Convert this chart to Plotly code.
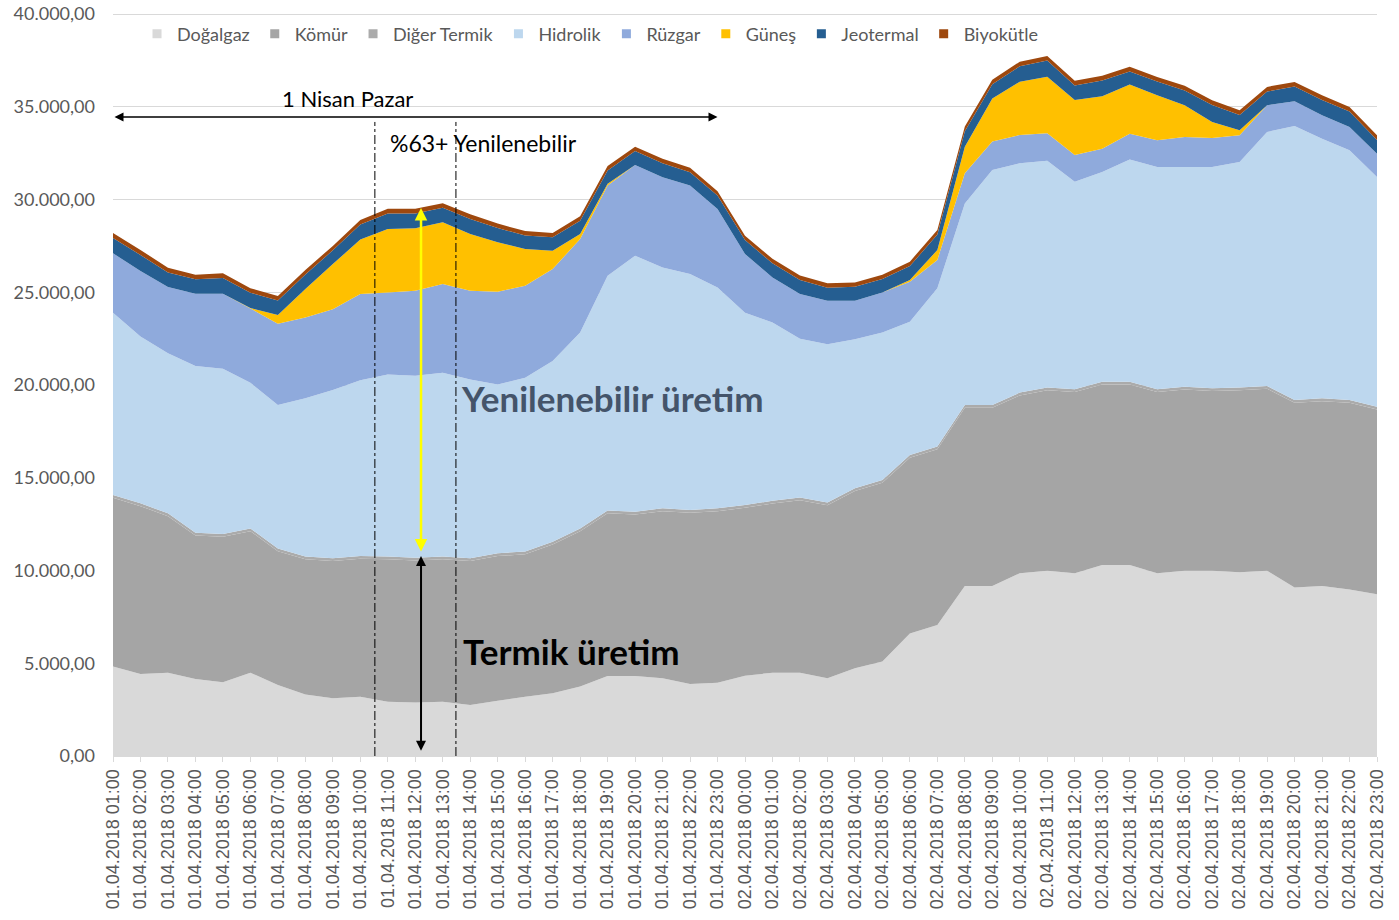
import plotly.graph_objects as go

# ---- categories (hourly timestamps) ----
hours_day1 = [f"01.04.2018 {h:02d}:00" for h in range(1, 24)]
hours_day2 = [f"02.04.2018 {h:02d}:00" for h in range(0, 24)]
categories = hours_day1 + hours_day2

# ---- series values (MW) ----
dogalgaz = [4820, 4420, 4490, 4150, 3970, 4490, 3830, 3320, 3110, 3200, 2930, 2880, 2930, 2750, 2980, 3200,
            3380, 3740, 4310, 4310, 4190, 3880, 3950, 4330, 4490, 4490, 4190, 4730, 5090, 6610, 7060, 9160,
            9160, 9850, 9990, 9850, 10300, 10300, 9850, 9990, 9990, 9900, 9990, 9090, 9160, 8980, 8720]
komur = [9100, 9050, 8440, 7740, 7850, 7630, 7210, 7280, 7400, 7430, 7670, 7660, 7670, 7760, 7800, 7670,
         8020, 8380, 8770, 8710, 9010, 9230, 9250, 9050, 9120, 9300, 9330, 9550, 9640, 9470, 9470, 9610,
         9610, 9590, 9730, 9770, 9730, 9730, 9770, 9770, 9680, 9820, 9810, 9950, 9970, 10060, 9960]
diger_termik = [150, 150, 150, 150, 150, 150, 150, 150, 150, 150, 150, 150, 150, 150, 150, 150,
                150, 150, 150, 150, 150, 150, 150, 150, 150, 150, 150, 150, 150, 150, 150, 150,
                150, 150, 150, 150, 150, 150, 150, 150, 150, 150, 150, 150, 150, 150, 150]
hidrolik = [9830, 8990, 8630, 8990, 8910, 7850, 7730, 8530, 9070, 9470, 9820, 9810, 9910, 9640, 9100, 9370,
            9750, 10560, 12660, 13800, 12990, 12720, 11910, 10370, 9610, 8560, 8530, 8040, 7950, 7180, 8530, 10870,
            12670, 12360, 12220, 11190, 11300, 11980, 11980, 11840, 11930, 12150, 13690, 14770, 14000, 13460, 12380]
ruzgar = [3200, 3540, 3570, 3890, 4040, 4010, 4380, 4360, 4360, 4650, 4420, 4580, 4780, 4780, 5000, 4960,
          4950, 5040, 4860, 4890, 4860, 4780, 4230, 3160, 2430, 2400, 2340, 2070, 2160, 2160, 1530, 1620,
          1530, 1530, 1480, 1440, 1260, 1390, 1440, 1620, 1560, 1440, 1440, 1340, 1260, 1260, 1260]
gunes = [0, 0, 0, 0, 0, 20, 480, 1530, 2430, 2940, 3420, 3370, 3330, 3060, 2660, 1980,
         990, 270, 100, 0, 0, 0, 0, 0, 0, 0, 0, 0, 0, 90, 540, 1440,
         2330, 2870, 3050, 2960, 2830, 2650, 2430, 1710, 870, 270, 0, 0, 0, 0, 0]
jeotermal = [830, 860, 790, 780, 850, 820, 780, 790, 740, 810, 840, 800, 780, 810, 770, 730,
             720, 720, 710, 750, 760, 710, 720, 750, 760, 760, 700, 750, 720, 750, 830, 830,
             760, 830, 870, 790, 850, 700, 740, 800, 920, 830, 740, 790, 830, 830, 740]
biyokutle = [270, 270, 250, 250, 260, 250, 240, 240, 240, 250, 250, 250, 250, 250, 240, 240,
             240, 240, 240, 240, 240, 240, 240, 240, 240, 240, 240, 240, 240, 240, 250, 250,
             240, 250, 250, 250, 250, 250, 250, 250, 250, 250, 250, 250, 250, 250, 250]

series_names = ["Doğalgaz", "Kömür", "Diğer Termik", "Hidrolik", "Rüzgar", "Güneş", "Jeotermal", "Biyokütle"]
series_values = [dogalgaz, komur, diger_termik, hidrolik, ruzgar, gunes, jeotermal, biyokutle]
series_colors = ["#d9d9d9", "#a5a5a5", "#ababab", "#bdd7ee", "#8faadc", "#ffc000", "#255e91", "#9e480e"]

y_ticks = [0, 5000, 10000, 15000, 20000, 25000, 30000, 35000, 40000]

x_idx = list(range(len(categories)))

fig = go.Figure()
for name, vals, col in zip(series_names, series_values, series_colors):
    fig.add_trace(go.Scatter(
        x=x_idx, y=vals, name=name, stackgroup="one", mode="none",
        fillcolor=col, line=dict(width=0), hoverinfo="name+y", showlegend=False,
        legendgroup=name))
# legend entries with square swatches
for name, col in zip(series_names, series_colors):
    fig.add_trace(go.Scatter(
        x=[None], y=[None], mode="markers", name=name, legendgroup=name,
        marker=dict(symbol="square", size=9, color=col), showlegend=True))

txt_font = "Lato, 'Open Sans', sans-serif"

ann = []
ann.append(dict(x=22, y=34450, ax=0, ay=34450, xref="x", yref="y", axref="x", ayref="y",
                showarrow=True, arrowhead=2, startarrowhead=2, arrowside="end+start",
                arrowsize=1.2, startarrowsize=1.2, arrowwidth=1.5, arrowcolor="#000000", text=""))
ann.append(dict(x=8.52, y=35470, xref="x", yref="y", text="1 Nisan Pazar", showarrow=False,
                font=dict(family=txt_font, size=22, color="#000000")))
ann.append(dict(x=10.0, y=33050, xref="x", yref="y", text="%63+ Yenilenebilir", showarrow=False,
                xanchor="left", font=dict(family=txt_font, size=23, color="#000000")))
ann.append(dict(x=11.21, y=29540, ax=11.21, ay=10940, xref="x", yref="y", axref="x", ayref="y",
                showarrow=True, arrowhead=2, startarrowhead=2, arrowside="end+start",
                arrowsize=1.0, startarrowsize=1.0, arrowwidth=2.5, arrowcolor="#ffff00", text=""))
ann.append(dict(x=11.21, y=10780, ax=11.21, ay=200, xref="x", yref="y", axref="x", ayref="y",
                showarrow=True, arrowhead=2, startarrowhead=2, arrowside="end+start",
                arrowsize=1.0, startarrowsize=1.0, arrowwidth=2, arrowcolor="#000000", text=""))
ann.append(dict(x=12.6, y=19300, xref="x", yref="y", text="<b>Yenilenebilir üretim</b>", showarrow=False,
                xanchor="left", font=dict(family=txt_font, size=35, color="#44546a")))
ann.append(dict(x=12.65, y=5660, xref="x", yref="y", text="<b>Termik üretim</b>", showarrow=False,
                xanchor="left", font=dict(family=txt_font, size=35, color="#000000")))

shapes = []
for xv in (9.53, 12.48):
    shapes.append(dict(type="line", xref="x", yref="y", x0=xv, x1=xv, y0=0, y1=34180,
                       line=dict(color="#000000", width=1, dash="dashdot")))

# plot area is 745px tall; 742px correspond to 40000, so the top of the range sits 3px above 40000
y_top = 40000 * 745 / 742

fig.update_layout(
    width=1399, height=920,
    margin=dict(l=113, r=22, t=11, b=164, autoexpand=False),
    paper_bgcolor="white", plot_bgcolor="white",
    separators=",.",
    showlegend=True,
    legend=dict(orientation="h", x=0.019, xanchor="left", y=0.994, yanchor="top",
                traceorder="normal", bgcolor="rgba(0,0,0,0)",
                font=dict(family=txt_font, size=18, color="#595959"),
                itemwidth=30, tracegroupgap=0),
    annotations=ann,
    shapes=shapes,
    xaxis=dict(range=[0, len(categories) - 1], tickmode="array", tickvals=x_idx, ticktext=categories,
               tickangle=-90, tickfont=dict(family="'Liberation Sans', Arial, sans-serif", size=18, color="#595959"),
               showgrid=False, zeroline=False, showline=True, linecolor="#d9d9d9", linewidth=1,
               ticks="outside", ticklen=5, tickcolor="#d9d9d9", automargin=False,
               ticklabeloverflow="allow"),
    yaxis=dict(range=[0, y_top], tickmode="array", tickvals=y_ticks, tickformat=",.2f",
               tickfont=dict(family=txt_font, size=18, color="#595959"),
               showgrid=True, gridcolor="#d9d9d9", gridwidth=1, zeroline=False,
               showline=False, ticks="", ticklabelstandoff=17, automargin=False,
               ticklabeloverflow="allow"),
)

# remove the browser's default 8px body margin so the figure fills the window exactly
fig.write_html("out.html", config={"displayModeBar": False},
               post_script="document.body.style.margin='0px';")
